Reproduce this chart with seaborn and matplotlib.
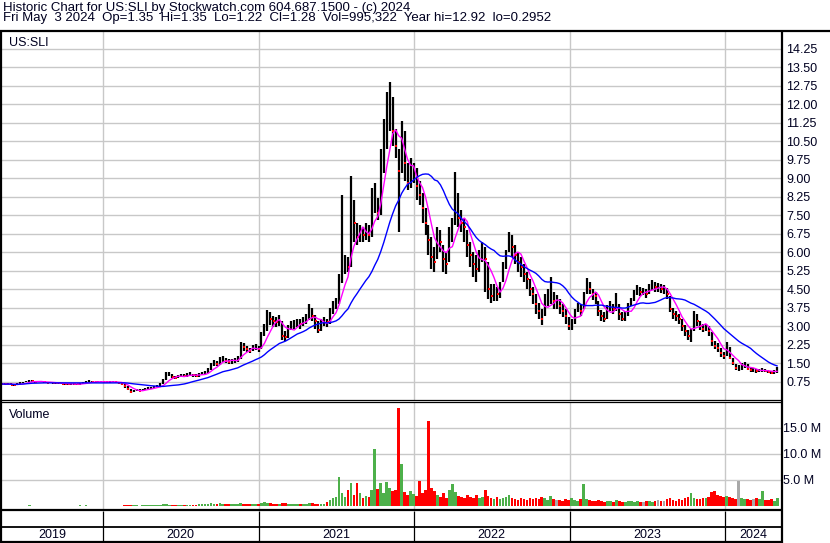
import numpy as np
import pandas as pd
import matplotlib
matplotlib.use("Agg")
import matplotlib.pyplot as plt
from matplotlib.lines import Line2D
import seaborn as sns

# ---------------- data (weekly) ----------------
start_date = "2019-05-10"
n_weeks = 261

close = [
    # 2019
    0.65, 0.63, 0.66, 0.62, 0.60, 0.64, 0.68, 0.72, 0.74, 0.78, 0.76, 0.73, 0.74, 0.75, 0.72, 0.70, 0.71,
    0.69, 0.68, 0.67, 0.66, 0.65, 0.64, 0.66, 0.65, 0.63, 0.64, 0.70, 0.74, 0.76, 0.73, 0.72, 0.74, 0.75,
    # 2020
    0.74, 0.72, 0.73, 0.75, 0.72, 0.70, 0.66, 0.55, 0.45, 0.32, 0.36, 0.40, 0.38, 0.42, 0.46, 0.48, 0.50,
    0.52, 0.55, 0.62, 0.75, 1.00, 1.05, 0.92, 0.90, 0.95, 1.00, 0.98, 1.02, 1.05, 1.00, 0.98, 1.02, 1.08,
    1.10, 1.20, 1.40, 1.50, 1.45, 1.62, 1.70, 1.60, 1.55, 1.58, 1.60, 1.65, 2.20, 2.15, 2.05, 2.00, 2.10,
    2.15, 2.05,
    # 2021
    2.30, 2.90, 3.40, 3.30, 3.20, 3.15, 3.25, 2.60, 2.55, 2.90,
    3.05, 3.10, 3.15, 3.10, 3.20, 3.30, 3.70, 3.40, 3.20, 2.85,
    3.15, 3.20, 3.15, 3.60, 3.80, 3.95, 4.80, 5.20, 5.60, 5.40,
    7.80, 7.20, 6.60, 6.80, 6.70, 6.90, 6.70, 7.60, 8.40, 7.60,
    9.50, 10.50, 11.30, 11.80, 10.90, 10.30, 9.30, 10.80, 9.60, 8.80,
    9.10, 9.20,
    # 2022
    8.70, 8.30, 7.80, 7.20, 6.50, 5.80, 5.60, 6.70, 6.40, 5.70,
    5.50, 6.50, 7.00, 8.30, 7.40, 7.20, 7.00, 6.30, 5.90, 5.50,
    5.30, 5.80, 6.00, 5.70, 4.50, 4.20, 4.40, 4.30, 4.50, 5.30,
    5.80, 6.50, 6.20, 5.90, 5.60, 5.40, 5.10, 4.90, 4.50, 4.30,
    3.90, 3.60, 3.30, 3.90, 4.10, 4.30, 4.00, 4.00, 3.80, 3.60,
    3.40, 3.00,
    # 2023
    3.10, 3.50, 3.80, 3.60, 4.20, 4.70, 4.50, 4.30, 4.20, 3.60,
    3.40, 3.30, 3.70, 3.80, 3.70, 4.00, 3.50, 3.30, 3.40, 3.80,
    4.00, 4.30, 4.50, 4.40, 4.40, 4.30, 4.50, 4.70, 4.60, 4.60,
    4.50, 4.50, 4.30, 3.70, 3.50, 3.40, 3.30, 3.00, 2.80, 2.60,
    2.70, 3.40, 3.20, 3.00, 2.90, 2.95, 2.80, 2.40, 2.20, 2.10,
    1.90, 1.80,
    # 2024
    2.20, 1.70, 1.50, 1.30, 1.30, 1.40, 1.45, 1.25, 1.20, 1.20,
    1.18, 1.20, 1.22, 1.18, 1.15, 1.10, 1.12, 1.28,
]

high = [
    # 2019
    0.69, 0.67, 0.69, 0.67, 0.64, 0.67, 0.71, 0.75, 0.78, 0.82, 0.80, 0.77, 0.77, 0.79, 0.76, 0.73, 0.74,
    0.72, 0.71, 0.70, 0.69, 0.68, 0.67, 0.69, 0.68, 0.66, 0.67, 0.73, 0.78, 0.80, 0.77, 0.75, 0.77, 0.79,
    # 2020
    0.78, 0.76, 0.77, 0.79, 0.76, 0.74, 0.72, 0.67, 0.56, 0.44, 0.40, 0.44, 0.43, 0.46, 0.50, 0.52, 0.54,
    0.57, 0.60, 0.68, 0.85, 1.15, 1.12, 1.05, 0.98, 1.02, 1.06, 1.04, 1.08, 1.12, 1.07, 1.04, 1.08, 1.15,
    1.18, 1.30, 1.50, 1.62, 1.58, 1.75, 1.80, 1.72, 1.66, 1.68, 1.70, 1.78, 2.35, 2.30, 2.18, 2.12, 2.22,
    2.28, 2.18,
    # 2021
    2.75, 3.10, 3.65, 3.55, 3.40, 3.35, 3.45, 3.20, 2.80, 3.05,
    3.20, 3.25, 3.30, 3.28, 3.35, 3.50, 3.90, 3.75, 3.45, 3.20,
    3.30, 3.35, 3.30, 3.75, 4.00, 4.15, 5.10, 8.30, 5.90, 5.80,
    9.10, 8.10, 7.20, 7.10, 7.00, 7.20, 7.10, 8.60, 8.80, 8.20,
    10.20, 11.40, 12.50, 12.92, 12.30, 11.00, 10.20, 11.30, 10.90, 9.60,
    9.80, 9.60,
    # 2022
    9.40, 8.90, 8.40, 7.80, 7.10, 6.60, 6.20, 7.00, 6.90, 6.30,
    6.00, 7.00, 7.40, 9.25, 8.40, 7.70, 7.40, 6.90, 6.40, 6.00,
    5.90, 6.10, 6.40, 6.20, 5.60, 4.70, 4.70, 4.60, 4.80, 5.60,
    6.10, 6.80, 6.70, 6.30, 6.00, 5.80, 5.50, 5.20, 4.90, 4.60,
    4.30, 3.95, 3.70, 4.30, 4.50, 5.00, 4.40, 4.25, 4.10, 3.90,
    3.70, 3.35,
    # 2023
    3.30, 3.70, 3.95, 3.90, 4.40, 4.95, 4.80, 4.50, 4.40, 4.00,
    3.65, 3.55, 3.85, 4.00, 3.90, 4.35, 3.90, 3.55, 3.60, 3.95,
    4.15, 4.45, 4.65, 4.60, 4.55, 4.50, 4.70, 4.85, 4.80, 4.75,
    4.70, 4.65, 4.55, 4.20, 3.75, 3.60, 3.50, 3.30, 3.05, 2.85,
    2.90, 3.60, 3.50, 3.20, 3.10, 3.10, 3.00, 2.75, 2.40, 2.30,
    2.10, 1.95,
    # 2024
    2.35, 2.15, 1.70, 1.45, 1.40, 1.50, 1.55, 1.45, 1.30, 1.28,
    1.25, 1.27, 1.28, 1.25, 1.22, 1.18, 1.20, 1.35,
]

low = [
    # 2019
    0.61, 0.60, 0.62, 0.59, 0.57, 0.60, 0.64, 0.68, 0.71, 0.74, 0.72, 0.70, 0.71, 0.71, 0.69, 0.67, 0.68,
    0.66, 0.65, 0.64, 0.63, 0.62, 0.61, 0.62, 0.62, 0.60, 0.61, 0.65, 0.70, 0.72, 0.70, 0.69, 0.71, 0.71,
    # 2020
    0.70, 0.68, 0.69, 0.71, 0.68, 0.66, 0.60, 0.50, 0.40, 0.30, 0.31, 0.36, 0.35, 0.38, 0.42, 0.44, 0.46,
    0.48, 0.51, 0.55, 0.64, 0.80, 0.96, 0.88, 0.84, 0.88, 0.93, 0.92, 0.95, 0.98, 0.94, 0.92, 0.95, 1.00,
    1.03, 1.08, 1.20, 1.38, 1.36, 1.44, 1.55, 1.52, 1.46, 1.48, 1.50, 1.55, 1.68, 2.00, 1.95, 1.90, 1.98,
    2.02, 1.95,
    # 2021
    2.05, 2.60, 2.80, 3.05, 2.95, 2.95, 3.00, 2.45, 2.40, 2.50,
    2.85, 2.90, 2.95, 2.90, 3.00, 3.10, 3.25, 3.20, 2.90, 2.70,
    2.80, 3.00, 2.95, 3.10, 3.50, 3.70, 3.90, 4.75, 5.10, 5.20,
    5.40, 6.40, 6.30, 6.40, 6.40, 6.50, 6.40, 6.60, 7.60, 7.30,
    7.50, 9.20, 10.20, 10.90, 10.30, 9.80, 6.80, 9.20, 8.90, 8.50,
    8.60, 8.80,
    # 2022
    8.10, 7.90, 7.20, 6.70, 5.90, 5.30, 5.20, 5.70, 6.00, 5.20,
    5.10, 5.60, 6.40, 7.10, 7.00, 6.80, 6.40, 5.80, 5.40, 5.00,
    4.80, 5.20, 5.60, 4.40, 4.10, 3.95, 4.00, 4.00, 4.15, 4.80,
    5.30, 6.00, 5.80, 5.50, 5.20, 5.00, 4.80, 4.50, 4.20, 3.90,
    3.50, 3.30, 3.05, 3.40, 3.80, 3.90, 3.70, 3.70, 3.50, 3.35,
    3.10, 2.85,
    # 2023
    2.85, 3.10, 3.55, 3.40, 3.70, 4.30, 4.30, 4.05, 3.90, 3.40,
    3.20, 3.15, 3.30, 3.60, 3.50, 3.60, 3.25, 3.20, 3.20, 3.40,
    3.80, 4.00, 4.25, 4.20, 4.25, 4.15, 4.30, 4.45, 4.40, 4.40,
    4.35, 4.30, 4.10, 3.55, 3.30, 3.20, 3.10, 2.80, 2.60, 2.45,
    2.35, 2.80, 3.00, 2.85, 2.75, 2.80, 2.60, 2.20, 2.05, 1.95,
    1.75, 1.68,
    # 2024
    1.80, 1.65, 1.40, 1.20, 1.18, 1.22, 1.30, 1.20, 1.12, 1.12,
    1.10, 1.12, 1.14, 1.12, 1.08, 1.04, 1.05, 1.10,
]

volume_m = [
    # 2019
    0.05, 0.04, 0.06, 0.05, 0.03, 0.05, 0.06, 0.08, 0.05, 0.10, 0.06, 0.04, 0.05, 0.06, 0.04, 0.05, 0.03,
    0.04, 0.05, 0.04, 0.03, 0.05, 0.04, 0.05, 0.04, 0.03, 0.15, 0.08, 0.10, 0.06, 0.05, 0.04, 0.05, 0.06,
    # 2020
    0.05, 0.04, 0.06, 0.05, 0.04, 0.06, 0.08, 0.15, 0.20,
    0.25, 0.10, 0.12, 0.08, 0.10, 0.12, 0.10, 0.15,
    0.12, 0.15, 0.20, 0.45, 0.30, 0.20, 0.15, 0.20, 0.18, 0.22,
    0.15, 0.20, 0.18, 0.22, 0.20, 0.30, 0.35, 0.45, 0.40, 0.50,
    0.45, 0.40, 0.50, 0.40, 0.35, 0.30, 0.35, 0.30, 0.30, 0.55,
    0.45, 0.35, 0.40, 0.40, 0.45, 0.35,
    # 2021
    0.60, 0.70, 0.55, 0.50, 0.45, 0.40, 0.45, 0.55, 0.50, 0.40,
    0.35, 0.30, 0.35, 0.30, 0.40, 0.45, 0.60, 0.50, 0.40, 0.45,
    0.35, 0.40, 0.80, 1.20, 1.50, 1.80, 5.60, 2.50, 1.80, 3.00,
    4.50, 2.20, 4.40, 2.50, 1.60, 2.00, 1.80, 3.00, 10.9, 3.20,
    4.40, 2.50, 4.60, 3.50, 2.80, 3.00, 18.9, 8.00, 2.60, 2.20,
    2.80, 2.40,
    # 2022
    2.00, 4.80, 2.50, 3.00, 16.3, 3.50, 2.80, 2.20, 1.80, 2.50,
    1.60, 3.00, 4.30, 2.60, 2.00, 1.80, 1.50, 2.20, 1.70, 1.60,
    2.20, 1.50, 1.80, 3.00, 2.00, 1.60, 1.40, 1.70, 1.30, 1.50,
    1.80, 2.20, 1.50, 1.30, 1.20, 1.60, 1.40, 1.20, 1.50, 1.30,
    1.60, 1.40, 1.80, 1.50, 1.20, 2.00, 1.30, 1.10, 1.20, 1.00,
    1.30, 1.20,
    # 2023
    1.50, 1.20, 1.00, 1.30, 4.30, 1.40, 1.10, 0.90, 1.00, 1.20,
    0.90, 0.80, 1.00, 0.90, 0.80, 1.10, 0.90, 0.80, 0.70, 0.90,
    1.00, 0.80, 0.90, 0.70, 0.80, 0.90, 1.00, 0.80, 0.90, 1.20,
    1.00, 0.90, 1.30, 1.60, 1.20, 1.00, 1.40, 1.20, 1.50, 1.80,
    2.50, 1.60, 1.40, 1.30, 1.60, 1.50, 1.80, 2.60, 2.80, 2.20,
    1.90, 1.70,
    # 2024
    2.00, 1.80, 1.50, 1.40, 4.90, 1.50, 1.30, 1.40, 1.20, 1.30,
    1.50, 1.40, 2.80, 1.20, 1.10, 1.30, 1.00, 1.60,
]

price_ticks = [0.75, 1.50, 2.25, 3.00, 3.75, 4.50, 5.25, 6.00, 6.75, 7.50, 8.25,
               9.00, 9.75, 10.50, 11.25, 12.00, 12.75, 13.50, 14.25]
volume_ticks = [5.0, 10.0, 15.0]
volume_tick_labels = ["5.0 M", "10.0 M", "15.0 M"]
year_ticks = [2020, 2021, 2022, 2023, 2024]
year_labels = ["2019", "2020", "2021", "2022", "2023", "2024"]

header1 = "Historic Chart for US:SLI by Stockwatch.com 604.687.1500 - (c) 2024"
header2 = ("Fri May  3 2024  Op=1.35  Hi=1.35  Lo=1.22  Cl=1.28  Vol=995,322  "
           "Year hi=12.92  lo=0.2952")

assert len(close) == len(high) == len(low) == len(volume_m) == n_weeks, \
    (len(close), len(high), len(low), len(volume_m))

# ---------------- frame ----------------
dates = pd.date_range(start_date, periods=n_weeks, freq="W-FRI")
xyear = dates.year + (dates.dayofyear - 1) / np.where(dates.is_leap_year, 366, 365)
df = pd.DataFrame({"x": xyear, "close": close, "high": high, "low": low, "vol": volume_m})
df["ma_fast"] = df["close"].rolling(5, min_periods=1).mean()
df["ma_slow"] = df["close"].rolling(20, min_periods=1).mean()
chg = df["close"].diff().fillna(0)
df["vcolor"] = np.where(chg > 0, "#4db04a", np.where(chg < 0, "#ff0000", "#a8a8a8"))

sns.set_style("white")
plt.rcParams["font.family"] = ["Liberation Sans", "DejaVu Sans"]
FS = 9
FS_HEAD = 9.5

W, H = 830, 543
fig = plt.figure(figsize=(W / 100, H / 100), dpi=100)


def rect(x0, y0, x1, y1):
    return [x0 / W, 1 - y1 / H, (x1 - x0) / W, (y1 - y0) / H]


XL = (2019.344, 2024.360)
GRID = "#c8c8c8"

ax = fig.add_axes(rect(1, 31, 781, 400))
axv = fig.add_axes(rect(1, 402, 781, 510))
axb = fig.add_axes(rect(1, 510, 781, 542))

# price panel
ax.set_xlim(*XL)
ax.set_ylim(0, 14.97)
ax.set_xticks(year_ticks)
ax.set_yticks(price_ticks)
ax.grid(True, color=GRID, linewidth=1.0)
ax.set_axisbelow(True)
ax.vlines(df["x"], df["low"], df["high"], color="black", linewidth=1.6, zorder=3)
down = df[chg < 0]
ax.scatter(down["x"] + 0.004, down["close"], marker="s", s=3, color="red",
           linewidths=0, zorder=4)
sns.lineplot(data=df, x="x", y="ma_fast", ax=ax, color="#ff00ff", linewidth=1.0, zorder=5)
sns.lineplot(data=df, x="x", y="ma_slow", ax=ax, color="#0000ff", linewidth=1.0, zorder=5)
ax.yaxis.tick_right()
ax.set_yticklabels([f"{t:.2f}" for t in price_ticks])
ax.tick_params(axis="y", length=0, pad=4.0, labelsize=FS, labelcolor="#000020")
ax.tick_params(axis="x", length=0, labelbottom=False)
ax.set_xlabel("")
ax.set_ylabel("")
for s in ax.spines.values():
    s.set_visible(False)

# volume panel
axv.set_xlim(*XL)
axv.set_ylim(-0.77, 20)
axv.set_xticks(year_ticks)
axv.set_yticks(volume_ticks)
axv.grid(True, color=GRID, linewidth=1.0)
axv.set_axisbelow(True)
axv.bar(df["x"], df["vol"], width=0.9 / 52.18, color=df["vcolor"], linewidth=0, zorder=3)
axv.yaxis.tick_right()
axv.set_yticklabels(volume_tick_labels)
axv.tick_params(axis="y", length=0, pad=1.5, labelsize=FS, labelcolor="#000020")
axv.tick_params(axis="x", length=0, labelbottom=False)
axv.set_xlabel("")
axv.set_ylabel("")
for s in axv.spines.values():
    s.set_visible(False)

# bottom strip with years
axb.set_xlim(*XL)
axb.set_ylim(0, 32)
axb.set_xticks([])
axb.set_yticks([])
for s in axb.spines.values():
    s.set_visible(False)
axb.vlines(year_ticks, 0, 31, color="black", linewidth=0.9)
edges = [XL[0]] + year_ticks + [XL[1]]
for lab, a, b in zip(year_labels, edges[:-1], edges[1:]):
    axb.text((a + b) / 2, 7.5, lab, ha="center", va="center", fontsize=FS, color="#000020")


# frame lines (figure pixel coords)
def hline(y, x0, x1, lw):
    fig.add_artist(Line2D([x0 / W, x1 / W], [1 - y / H, 1 - y / H], color="black",
                          linewidth=lw, transform=fig.transFigure, solid_capstyle="butt"))


def vline(x, y0, y1, lw):
    fig.add_artist(Line2D([x / W, x / W], [1 - y0 / H, 1 - y1 / H], color="black",
                          linewidth=lw, transform=fig.transFigure, solid_capstyle="butt"))


hline(30.5, 0, 830, 1.6)
vline(1.0, 30, 543, 1.6)
vline(781.5, 30, 543, 1.6)
hline(399.5, 0, 781, 0.9)
hline(401.5, 0, 781, 0.9)
hline(510.0, 0, 781, 1.6)
hline(526.5, 0, 781, 1.3)
hline(541.5, 0, 781, 1.6)

# texts
fig.text(3 / W, 1 - 10.7 / H, header1, fontsize=FS_HEAD, va="baseline", color="#000020")
fig.text(3 / W, 1 - 21.2 / H, header2, fontsize=FS_HEAD, va="baseline", color="#000020")
fig.text(9 / W, 1 - 45.7 / H, "US:SLI", fontsize=FS, va="baseline", color="#000020")
fig.text(9 / W, 1 - 417.7 / H, "Volume", fontsize=FS, va="baseline", color="#000020")

fig.savefig("out.png", dpi=100)
